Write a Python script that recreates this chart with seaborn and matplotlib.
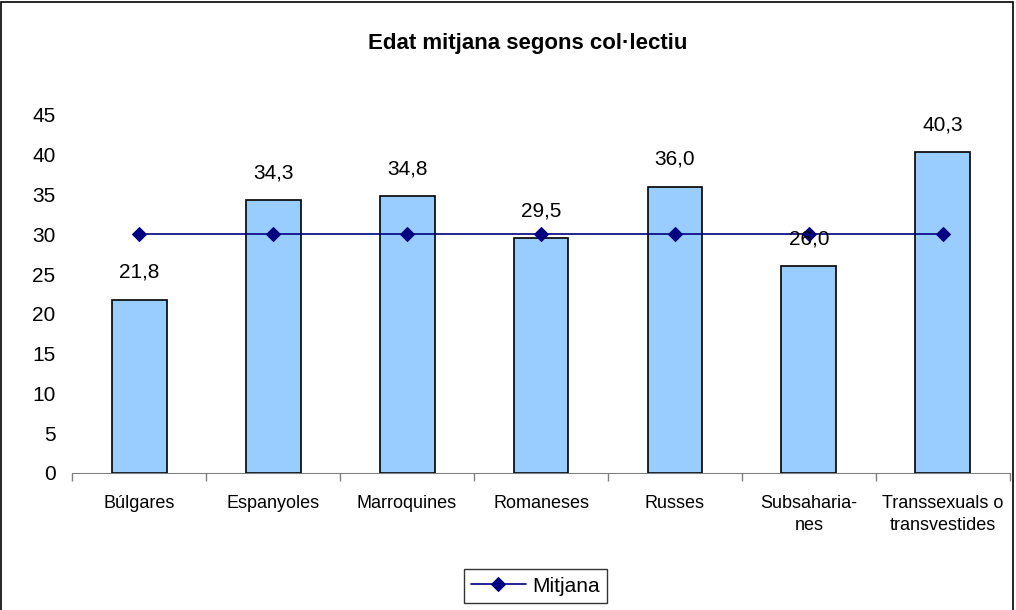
import seaborn as sns
import numpy as np
import matplotlib.pyplot as plt
from matplotlib.patches import Rectangle

categories = ["Búlgares", "Espanyoles", "Marroquines", "Romaneses", "Russes",
              "Subsaharia-\nnes", "Transsexuals o\ntransvestides"]
edat = [21.8, 34.3, 34.8, 29.5, 36.0, 26.0, 40.3]
mitjana = [30.0, 30.0, 30.0, 30.0, 30.0, 30.0, 30.0]

sns.set_style("white")
plt.rcParams['font.family'] = ['Liberation Sans', 'DejaVu Sans']
plt.rcParams['text.color'] = 'black'
plt.rcParams['xtick.color'] = 'black'
plt.rcParams['ytick.color'] = 'black'

fig = plt.figure(figsize=(10.16, 6.1), dpi=100)
ax = fig.add_axes([0.071, 0.2246, 0.923, 0.587])

# Bars
sns.barplot(x=categories, y=edat, color="#99CCFF", edgecolor="black",
            linewidth=1.2, width=0.41, saturation=1, ax=ax)

# Mean line
sns.lineplot(x=np.arange(len(categories)), y=mitjana, color="#000080",
             marker="D", markersize=7, markeredgecolor="#000080",
             linewidth=1.2, label="Mitjana", ax=ax)

# Data labels
for i, v in enumerate(edat):
    ax.text(i, v + 3.4, f"{v:.1f}".replace(".", ","), ha="center", va="center",
            fontsize=15, clip_on=False)

ax.set_xlim(-0.5, len(categories) - 0.5)
ax.set_ylim(0, 45)
ax.set_yticks(range(0, 46, 5))
ax.tick_params(axis="y", labelsize=15, length=0, pad=12)
ax.tick_params(axis="x", which="major", labelsize=13, length=0, pad=16)
for lbl in ax.get_xticklabels():
    lbl.set_linespacing(1.4)
ax.set_xticks(np.arange(-0.5, len(categories), 1), minor=True)
ax.tick_params(axis="x", which="minor", bottom=True, length=6, width=1,
               color="#808080", direction="out")
for s in ["top", "right", "left"]:
    ax.spines[s].set_visible(False)
ax.spines["bottom"].set_color("#808080")
ax.set_xlabel("")
ax.set_ylabel("")

fig.text(0.519, 0.928, "Edat mitjana segons col·lectiu", ha="center", va="center",
         fontsize=16, fontweight="bold")

leg = ax.legend(loc="center", bbox_to_anchor=(0.494, -0.316), frameon=True,
                fontsize=15, fancybox=False, edgecolor="black", handlelength=2.6,
                borderpad=0.35, handletextpad=0.3)
leg.get_frame().set_linewidth(1.0)

fig.patches.append(Rectangle((0.001, -0.01), 0.996, 1.007, transform=fig.transFigure,
                             fill=False, edgecolor="black", linewidth=1.2))

plt.savefig("out.png", dpi=100)
